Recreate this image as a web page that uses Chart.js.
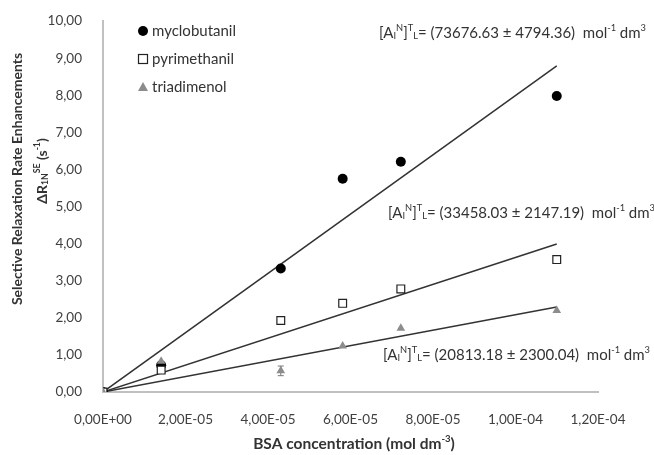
<!DOCTYPE html>
<html>
<head>
<meta charset="utf-8">
<script src="https://cdn.jsdelivr.net/npm/chart.js@4.4.0/dist/chart.umd.min.js"></script>
<style>
  body { margin: 0; background: #fff; }
  #wrap { width: 654px; height: 455px; }
</style>
</head>
<body>
<div id="wrap"><canvas id="bsaChart" width="654" height="455"></canvas></div>
<script>
// BSA concentration (mol dm-3)
const concentration = [0, 1.41e-5, 4.31e-5, 5.81e-5, 7.22e-5, 1.10e-4];
// selective relaxation rate enhancements (s-1)
const myclobutanil = [0, 0.72, 3.33, 5.75, 6.21, 7.98];
const pyrimethanil = [0, 0.59, 1.93, 2.39, 2.78, 3.57];
const triadimenol = [0, 0.83, 0.57, 1.24, 1.72, 2.20];
const triadimenolErr = [0, 0, 0.13, 0, 0, 0];
// fitted lines through origin, value at last concentration
const fitStart = [0, 0, 0];
const fitEnd = [8.79, 3.99, 2.29];
const seriesNames = ['myclobutanil', 'pyrimethanil', 'triadimenol'];
const constants = [
  ['73676.63', '4794.36'],
  ['33458.03', '2147.19'],
  ['20813.18', '2300.04']
];

const FONT = 'Lato, "Open Sans", sans-serif';
const toPts = ys => ys.map((y, i) => ({ x: concentration[i], y: y }));
const fitPts = k => [
  { x: concentration[0], y: fitStart[k] },
  { x: concentration[concentration.length - 1], y: fitEnd[k] }
];

function fmtComma(v) {
  return v.toFixed(2).replace('.', ',');
}
function fmtExp(v) {
  const parts = v.toExponential(2).split('e');
  let e = parseInt(parts[1], 10);
  const sign = e < 0 ? '-' : '+';
  e = Math.abs(e);
  return parts[0].replace('.', ',') + 'E' + sign + (e < 10 ? '0' + e : e);
}

// text made of pieces, some of them sub- or superscript
function pieceFont(p, size, weight) {
  return weight + (p.s ? size * 0.62 : size) + 'px ' + FONT;
}
function richWidth(ctx, pieces, size, weight) {
  let w = 0;
  pieces.forEach(p => {
    ctx.font = pieceFont(p, size, weight);
    w += ctx.measureText(p.t).width;
  });
  return w;
}
function richText(ctx, x, y, pieces, size, weight) {
  weight = weight || '';
  let cx = x;
  pieces.forEach(p => {
    ctx.font = pieceFont(p, size, weight);
    const dy = p.s === 'sup' ? -size * 0.36 : (p.s === 'sub' ? size * 0.22 : 0);
    ctx.fillText(p.t, cx, y + dy);
    cx += ctx.measureText(p.t).width;
  });
}

function drawMarker(ctx, type, x, y) {
  ctx.save();
  if (type === 0) {
    ctx.fillStyle = '#000';
    ctx.beginPath();
    ctx.arc(x, y, 5, 0, Math.PI * 2);
    ctx.fill();
  } else if (type === 1) {
    ctx.fillStyle = '#fff';
    ctx.strokeStyle = '#222';
    ctx.lineWidth = 1.2;
    ctx.fillRect(x - 4.5, y - 4.5, 9, 9);
    ctx.strokeRect(x - 4.5, y - 4.5, 9, 9);
  } else {
    ctx.fillStyle = '#8c8c8c';
    ctx.beginPath();
    ctx.moveTo(x, y - 5);
    ctx.lineTo(x + 5, y + 4);
    ctx.lineTo(x - 5, y + 4);
    ctx.closePath();
    ctx.fill();
  }
  ctx.restore();
}

const extras = {
  id: 'extras',
  beforeDatasetsDraw(chart) {
    // error bars
    const ctx = chart.ctx;
    const xs = chart.scales.x, ys = chart.scales.y;
    ctx.save();
    ctx.strokeStyle = '#777';
    ctx.lineWidth = 1;
    triadimenolErr.forEach((err, i) => {
      if (!err) return;
      const px = xs.getPixelForValue(concentration[i]);
      const top = ys.getPixelForValue(triadimenol[i] + err);
      const bot = ys.getPixelForValue(triadimenol[i] - err);
      ctx.beginPath();
      ctx.moveTo(px, top); ctx.lineTo(px, bot);
      ctx.moveTo(px - 3, top); ctx.lineTo(px + 3, top);
      ctx.moveTo(px - 3, bot); ctx.lineTo(px + 3, bot);
      ctx.stroke();
    });
    ctx.restore();
  },
  afterDraw(chart) {
    const ctx = chart.ctx;
    ctx.save();
    ctx.textBaseline = 'middle';
    ctx.textAlign = 'left';
    ctx.fillStyle = '#333';

    // legend
    const legY = [31, 59, 87];
    seriesNames.forEach((n, k) => {
      drawMarker(ctx, k, 143, legY[k]);
      ctx.fillStyle = '#333';
      ctx.font = '15px ' + FONT;
      ctx.fillText(n, 152, legY[k]);
    });

    // binding constants
    const pos = [[379, 33], [388, 213], [383, 355]];
    constants.forEach((c, k) => {
      richText(ctx, pos[k][0], pos[k][1], [
        { t: '[A' }, { t: 'I', s: 'sub' }, { t: 'N', s: 'sup' }, { t: ']' },
        { t: 'T', s: 'sup' }, { t: 'L', s: 'sub' },
        { t: '= (' + c[0] + ' \u00b1 ' + c[1] + ')  mol' },
        { t: '-1', s: 'sup' }, { t: ' dm' }, { t: '3', s: 'sup' }
      ], 15);
    });

    // axis titles
    const xt = [{ t: 'BSA concentration (mol dm' }, { t: '-3', s: 'sup' }, { t: ')' }];
    const xw = richWidth(ctx, xt, 15.5, 'bold ');
    richText(ctx, 354 - xw / 2, 444, xt, 15.5, 'bold ');

    ctx.translate(17, 179);
    ctx.rotate(-Math.PI / 2);
    ctx.textAlign = 'center';
    ctx.font = 'bold 14px ' + FONT;
    ctx.fillText('Selective Relaxation Rate Enhancements', 0, 0);
    ctx.textAlign = 'left';
    const yt = [
      { t: '\u0394R' }, { t: '1N', s: 'sub' }, { t: 'SE', s: 'sup' },
      { t: ' (s' }, { t: '-1', s: 'sup' }, { t: ')' }
    ];
    const yw = richWidth(ctx, yt, 14, 'bold ');
    richText(ctx, 8 - yw / 2, 25, yt, 14, 'bold ');
    ctx.restore();
  }
};

const lineStyle = {
  type: 'scatter',
  showLine: true,
  borderColor: '#333',
  borderWidth: 1.5,
  pointRadius: 0,
  fill: false,
  order: 10
};

new Chart(document.getElementById('bsaChart'), {
  type: 'scatter',
  data: {
    datasets: [
      Object.assign({ data: fitPts(0) }, lineStyle),
      Object.assign({ data: fitPts(1) }, lineStyle),
      Object.assign({ data: fitPts(2) }, lineStyle),
      {
        label: seriesNames[0], data: toPts(myclobutanil), order: 3,
        pointStyle: 'circle', pointRadius: 5,
        backgroundColor: '#000', borderColor: '#000', borderWidth: 0
      },
      {
        label: seriesNames[1], data: toPts(pyrimethanil), order: 2,
        pointStyle: 'rect', pointRadius: 5.5,
        backgroundColor: '#fff', borderColor: '#222', borderWidth: 1.2
      },
      {
        label: seriesNames[2], data: toPts(triadimenol), order: 1,
        pointStyle: 'triangle', pointRadius: 5,
        backgroundColor: '#8c8c8c', borderColor: '#8c8c8c', borderWidth: 0
      }
    ]
  },
  options: {
    responsive: false,
    animation: false,
    layout: { padding: { top: 19, right: 56, left: 0, bottom: 0 } },
    plugins: {
      legend: { display: false },
      tooltip: { enabled: false }
    },
    scales: {
      x: {
        type: 'linear',
        min: 0,
        max: 1.2e-4,
        grid: { display: false },
        border: { display: true, color: '#c0c0c0', width: 2 },
        afterFit: s => { s.height = 63; },
        afterBuildTicks: s => {
          s.ticks = [0, 2e-5, 4e-5, 6e-5, 8e-5, 1e-4, 1.2e-4].map(v => ({ value: v }));
        },
        ticks: {
          padding: 12,
          color: '#404040',
          font: { family: FONT, size: 13.5 },
          maxRotation: 0,
          callback: v => fmtExp(v)
        }
      },
      y: {
        min: 0,
        max: 10,
        grid: { display: false },
        border: { display: true, color: '#c0c0c0', width: 2 },
        afterFit: s => { s.width = 103; },
        ticks: {
          stepSize: 1,
          padding: 13,
          color: '#404040',
          font: { family: FONT, size: 13.5 },
          callback: v => fmtComma(v)
        }
      }
    }
  },
  plugins: [extras]
});
</script>
</body>
</html>
